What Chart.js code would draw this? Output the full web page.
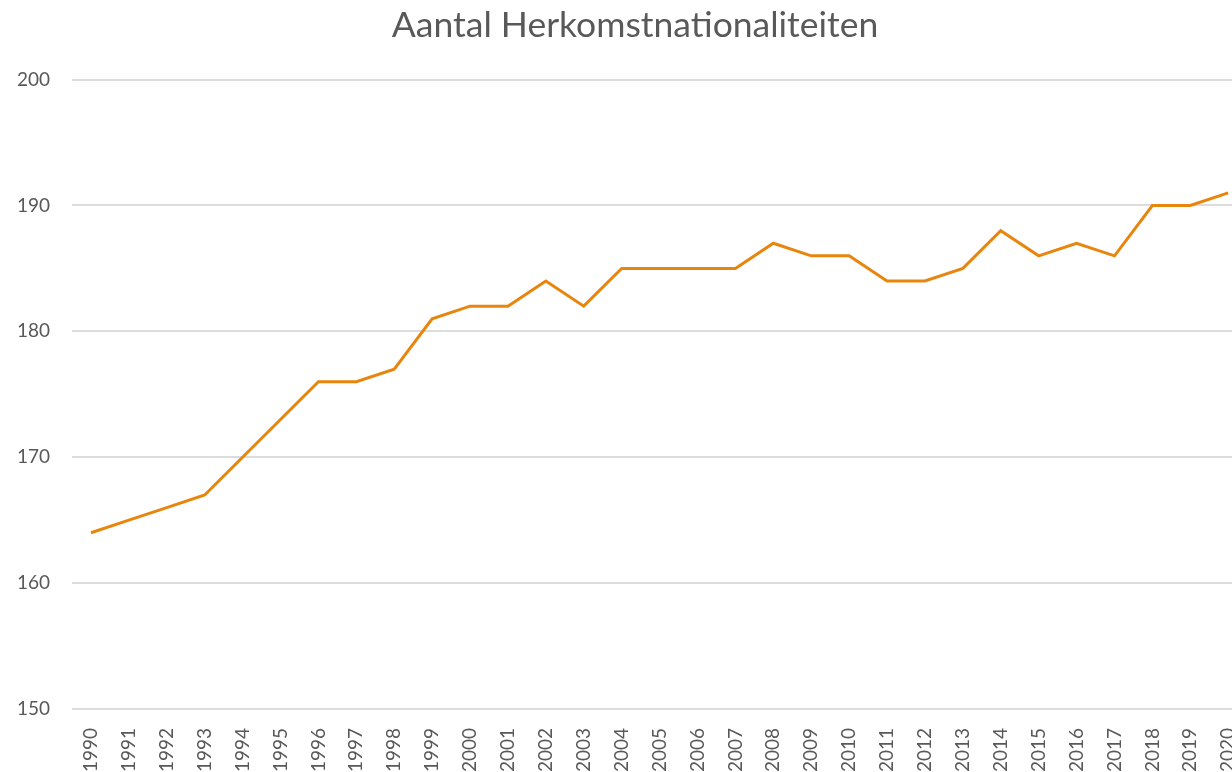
<!DOCTYPE html>
<html>
<head>
<meta charset="utf-8">
<script src="https://cdn.jsdelivr.net/npm/chart.js@4/dist/chart.umd.min.js"></script>
<style>
  html, body { margin: 0; padding: 0; background: #fff; }
  #wrap { width: 1232px; height: 772px; }
</style>
</head>
<body>
<div id="wrap"><canvas id="chart"></canvas></div>
<script>
// jaren en aantallen
const years = [1990, 1991, 1992, 1993, 1994, 1995, 1996, 1997, 1998, 1999,
  2000, 2001, 2002, 2003, 2004, 2005, 2006, 2007, 2008, 2009,
  2010, 2011, 2012, 2013, 2014, 2015, 2016, 2017, 2018, 2019, 2020];
const counts = [164, 165, 166, 167, 170, 173, 176, 176, 177, 181,
  182, 182, 184, 182, 185, 185, 185, 185, 187, 186,
  186, 184, 184, 185, 188, 186, 187, 186, 190, 190, 191];
const yTicks = [150, 160, 170, 180, 190, 200];

const grey = "#595959";

// titel iets naar rechts, zoals in het origineel
const shiftTitle = {
  id: "shiftTitle",
  afterLayout(chart) {
    if (chart.titleBlock) chart.titleBlock.left += 38;
  }
};

new Chart(document.getElementById("chart"), {
  type: "line",
  data: {
    datasets: [{
      label: "Aantal",
      data: years.map((y, i) => ({ x: y, y: counts[i] })),
      borderColor: "#E8850C",
      borderWidth: 3,
      pointRadius: 0,
      tension: 0,
      clip: false
    }]
  },
  options: {
    responsive: true,
    maintainAspectRatio: false,
    animation: false,
    layout: { padding: 0 },
    plugins: {
      legend: { display: false },
      tooltip: { enabled: false },
      title: {
        display: true,
        text: "Aantal Herkomstnationaliteiten",
        color: grey,
        font: { family: "Lato", size: 35.5, weight: "400" },
        padding: { top: 4, bottom: 33 }
      }
    },
    scales: {
      x: {
        type: "linear",
        min: 1989.5,
        max: 2020.1,
        grid: { display: false },
        border: { display: false },
        ticks: {
          stepSize: 1,
          includeBounds: false,
          autoSkip: false,
          maxTicksLimit: 40,
          minRotation: 90,
          maxRotation: 90,
          padding: 11,
          color: grey,
          font: { family: "Lato", size: 19 },
          callback: v => String(v)
        },
        afterFit(scale) {
          scale.height = 63;
          scale.paddingLeft = 0;
          scale.paddingRight = 0;
        }
      },
      y: {
        min: 150,
        max: 200,
        afterBuildTicks(scale) {
          scale.ticks = yTicks.map(v => ({ value: v }));
        },
        grid: { color: "#dcdcdc", lineWidth: 2, drawTicks: false },
        border: { display: false },
        ticks: {
          padding: 22,
          color: grey,
          font: { family: "Lato", size: 19 }
        },
        afterFit(scale) {
          scale.width = 72;
          scale.paddingTop = 0;
          scale.paddingBottom = 0;
        }
      }
    }
  },
  plugins: [shiftTitle]
});
</script>
</body>
</html>
